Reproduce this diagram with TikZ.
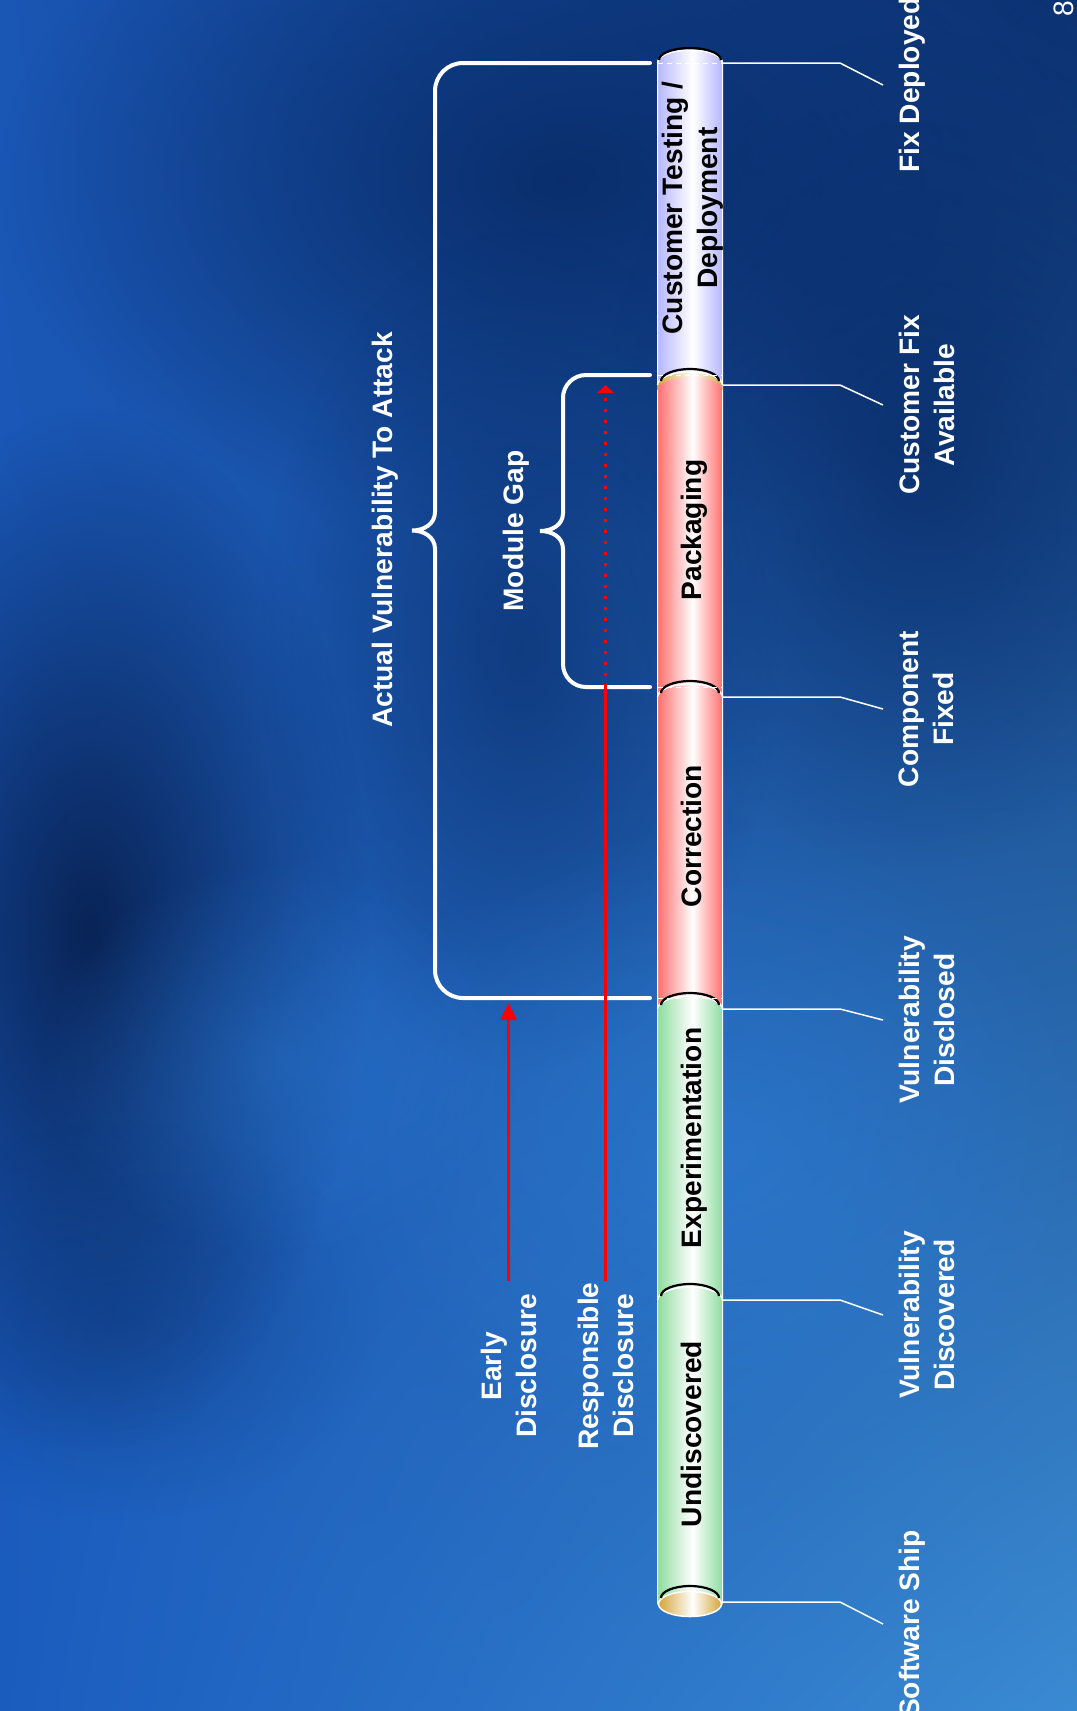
\documentclass[tikz,border=0pt]{standalone}
\usepackage{fontspec}
\setmainfont{Liberation Sans}
\usepackage{xcolor}
\usepackage{tikz}
\usetikzlibrary{calc}
\usetikzlibrary{arrows.meta}
\usetikzlibrary{shadings}
\usetikzlibrary{fadings}

\definecolor{bgUL}{HTML}{1A56B4}
\definecolor{bgUR}{HTML}{0C3272}
\definecolor{bgLL}{HTML}{1A5CBE}
\definecolor{bgLR}{HTML}{3A8AD2}
\definecolor{bgDark}{HTML}{082A66}
\definecolor{bgDeep}{HTML}{061A45}
\definecolor{bgLight}{HTML}{2E7FD8}
\definecolor{barGreen}{HTML}{8EDCA0}
\definecolor{barRed}{HTML}{FF6E6E}
\definecolor{barLav}{HTML}{B6B6FF}
\definecolor{barGold}{HTML}{D4A53A}

\pgfdeclarehorizontalshading{greenbar}{100bp}{color(0bp)=(barGreen); color(25bp)=(barGreen); color(52bp)=(white); color(75bp)=(barGreen); color(100bp)=(barGreen)}
\pgfdeclarehorizontalshading{redbar}{100bp}{color(0bp)=(barRed); color(25bp)=(barRed); color(52bp)=(white); color(75bp)=(barRed); color(100bp)=(barRed)}
\pgfdeclarehorizontalshading{lavbar}{100bp}{color(0bp)=(barLav); color(25bp)=(barLav); color(52bp)=(white); color(75bp)=(barLav); color(100bp)=(barLav)}
\pgfdeclarehorizontalshading{goldbar}{100bp}{color(0bp)=(barGold); color(25bp)=(barGold); color(52bp)=(white); color(75bp)=(barGold); color(100bp)=(barGold)}
\tikzfading[name=softblob,inner color=transparent!0,outer color=transparent!100]

\begin{document}
\begin{tikzpicture}[x=0.01cm,y=0.01cm,
  outlbl/.style={text=white,font=\bfseries\fontsize{8}{10}\selectfont,rotate=90,anchor=north,inner sep=0pt,align=center},
  barlbl/.style={text=black,font=\bfseries\fontsize{8}{10}\selectfont,rotate=90,inner sep=0pt,align=center},
  leader/.style={white,line width=0.015cm},
  brace/.style={white,line width=0.04cm,line cap=round},
  redline/.style={red,line width=0.03cm},
  seam/.style={white,line width=0.015cm},
  rim/.style={black,line width=0.022cm},
  cut/.style={white,line width=0.01cm,dash pattern=on 0.05cm off 0.04cm}]

\useasboundingbox (0,0) rectangle (1077,-1711);
\clip (0,0) rectangle (1077,-1711);

% background
\shade [upper left=bgUL,upper right=bgUR,lower left=bgLL,lower right=bgLR] (0,0) rectangle (1077,-1711);
\fill [bgDark,path fading=softblob,fill opacity=0.85] (560,-180) ellipse [x radius=560,y radius=360];
\fill [bgDark,path fading=softblob,fill opacity=0.6] (520,-650) ellipse [x radius=260,y radius=420];
\fill [bgDark,path fading=softblob,fill opacity=0.75] (920,-450) ellipse [x radius=320,y radius=420];
\fill [bgDeep,path fading=softblob,fill opacity=0.85] (90,-930) ellipse [x radius=280,y radius=520];
\fill [bgDark,path fading=softblob,fill opacity=0.35] (120,-1320) ellipse [x radius=260,y radius=200];
\fill [bgLight,path fading=softblob,fill opacity=0.55] (720,-1150) ellipse [x radius=380,y radius=330];
\fill [bgLight,path fading=softblob,fill opacity=0.4] (280,-1060) ellipse [x radius=240,y radius=200];

% the bar, top to bottom
\path [shading=lavbar,draw=white,line width=0.01cm] (657.5,-63) arc [start angle=180,end angle=0,x radius=32.5,y radius=13]
    -- (722.5,-385) arc [start angle=0,end angle=-180,x radius=32.5,y radius=13] -- cycle;
\path [shading=redbar,draw=white,line width=0.01cm] (657.5,-385) arc [start angle=180,end angle=0,x radius=32.5,y radius=13]
    -- (722.5,-697) arc [start angle=0,end angle=-180,x radius=32.5,y radius=13] -- cycle;
\path [shading=redbar,draw=white,line width=0.01cm] (657.5,-697) arc [start angle=180,end angle=0,x radius=32.5,y radius=13]
    -- (722.5,-1009) arc [start angle=0,end angle=-180,x radius=32.5,y radius=13] -- cycle;
\path [shading=greenbar,draw=white,line width=0.01cm] (657.5,-1009) arc [start angle=180,end angle=0,x radius=32.5,y radius=13]
    -- (722.5,-1300) arc [start angle=0,end angle=-180,x radius=32.5,y radius=13] -- cycle;
\path [shading=greenbar,draw=white,line width=0.01cm] (657.5,-1300) arc [start angle=180,end angle=0,x radius=32.5,y radius=13]
    -- (722.5,-1602) arc [start angle=0,end angle=-180,x radius=32.5,y radius=13] -- cycle;

% end face and the gold edge of packaging
\path [shading=goldbar,draw=white,line width=0.015cm] (690,-1604) ellipse [x radius=31.5,y radius=12.5];
\path [shading=goldbar] (657.5,-385) arc [start angle=180,end angle=0,x radius=32.5,y radius=13]
    -- (722.5,-390) arc [start angle=0,end angle=180,x radius=32.5,y radius=13] -- cycle;

% seams
\draw [seam] (657.5,-63) arc [start angle=180,end angle=0,x radius=32.5,y radius=13];
\draw [rim] (659,-60) arc [start angle=180,end angle=0,x radius=31,y radius=12];
\draw [seam] (657.5,-385) arc [start angle=180,end angle=0,x radius=32.5,y radius=13];
\draw [rim] (661,-381) arc [start angle=180,end angle=0,x radius=29,y radius=12];
\draw [seam] (657.5,-697) arc [start angle=180,end angle=0,x radius=32.5,y radius=13];
\draw [rim] (661,-693) arc [start angle=180,end angle=0,x radius=29,y radius=12];
\draw [seam] (657.5,-1009) arc [start angle=180,end angle=0,x radius=32.5,y radius=13];
\draw [rim] (661,-1005) arc [start angle=180,end angle=0,x radius=29,y radius=12];
\draw [seam] (657.5,-1300) arc [start angle=180,end angle=0,x radius=32.5,y radius=13];
\draw [rim] (661,-1296) arc [start angle=180,end angle=0,x radius=29,y radius=12];
\draw [rim] (661,-1598) arc [start angle=180,end angle=0,x radius=29,y radius=12];

% phase names
\node [barlbl] (deploy) at (693,-208) {Customer Testing /\\Deployment};
\node [barlbl,anchor=base] (pack) at (701,-530) {Packaging};
\node [barlbl,anchor=base] (corr) at (701,-836) {Correction};
\node [barlbl,anchor=base] (expe) at (701,-1138) {Experimentation};
\node [barlbl,anchor=base] (undi) at (701,-1434) {Undiscovered};

% events on the right
\coordinate (j1) at (723,-63);
\coordinate (j2) at (723,-385);
\coordinate (j3) at (723,-697);
\coordinate (j4) at (723,-1009);
\coordinate (j5) at (723,-1300);
\coordinate (j6) at (723,-1602);

\node [outlbl] (fix) at (898,-85) {Fix Deployed};
\node [outlbl] (avail) at (898,-405) {Customer Fix\\Available};
\node [outlbl] (comp) at (898,-709) {Component\\Fixed};
\node [outlbl] (discl) at (898,-1020) {Vulnerability\\Disclosed};
\node [outlbl] (disco) at (898,-1315) {Vulnerability\\Discovered};
\node [outlbl] (ship) at (898,-1624) {Software Ship};

\draw [leader] (j1) -- ++(117,0) -- ($(fix.north)+(-15,0)$);
\draw [leader] (j2) -- ++(117,0) -- ($(avail.north)+(-15,0)$);
\draw [leader] (j3) -- ++(117,0) -- ($(comp.north)+(-15,0)$);
\draw [leader] (j4) -- ++(117,0) -- ($(discl.north)+(-15,0)$);
\draw [leader] (j5) -- ++(117,0) -- ($(disco.north)+(-15,0)$);
\draw [leader] (j6) -- ++(117,0) -- ($(ship.north)+(-15,0)$);

% braces
\coordinate (bigtop) at (650,-63);
\coordinate (bigbot) at (650,-998);
\coordinate (gaptop) at (650,-375);
\coordinate (gapbot) at (650,-687);

\draw [brace] (bigtop) -- (463,-63) arc [start angle=90,end angle=180,radius=28] -- (435,-512)
    .. controls (435,-524) and (424,-530.5) .. (412,-530.5)
    .. controls (424,-530.5) and (435,-537) .. (435,-549)
    -- (435,-970) arc [start angle=180,end angle=270,radius=28] -- (bigbot);
\draw [brace] (gaptop) -- (586,-375) arc [start angle=90,end angle=180,radius=23] -- (563,-513)
    .. controls (563,-525) and (552,-531) .. (540,-531)
    .. controls (552,-531) and (563,-537) .. (563,-549)
    -- (563,-664) arc [start angle=180,end angle=270,radius=23] -- (gapbot);

\draw [cut] ($(bigtop)+(8,0)$) -- ++(65,0);
\draw [cut] ($(gaptop)+(8,0)$) -- ++(65,0);
\draw [cut] ($(gapbot)+(8,0)$) -- ++(65,0);
\draw [cut] ($(bigbot)+(8,0)$) -- ++(65,0);

\node [outlbl] (attack) at (371,-530) {Actual Vulnerability To Attack};
\node [outlbl] (gap) at (502,-531) {Module Gap};

% disclosure
\node [outlbl] (early) at (480,-1366) {Early\\Disclosure};
\node [outlbl] (resp) at (577,-1366) {Responsible\\Disclosure};

\draw [redline,-{Triangle[length=0.17cm,width=0.16cm]}] ($(early.east)+(0,12)$) -- ($(early.east |- bigbot)+(0,-5)$);
\draw [redline] ($(resp.east)+(0,1)$) -- (resp.east |- gapbot);
\draw [redline,dash pattern=on 0.03cm off 0.08cm,-{Triangle[length=0.08cm,width=0.16cm]}] (resp.east |- gapbot) -- ($(resp.east |- gaptop)+(0,-10)$);

\node [text=white,font=\fontsize{8}{10}\selectfont,rotate=90,inner sep=0pt] (slide) at (1064,-9) {8};

\end{tikzpicture}
\end{document}
